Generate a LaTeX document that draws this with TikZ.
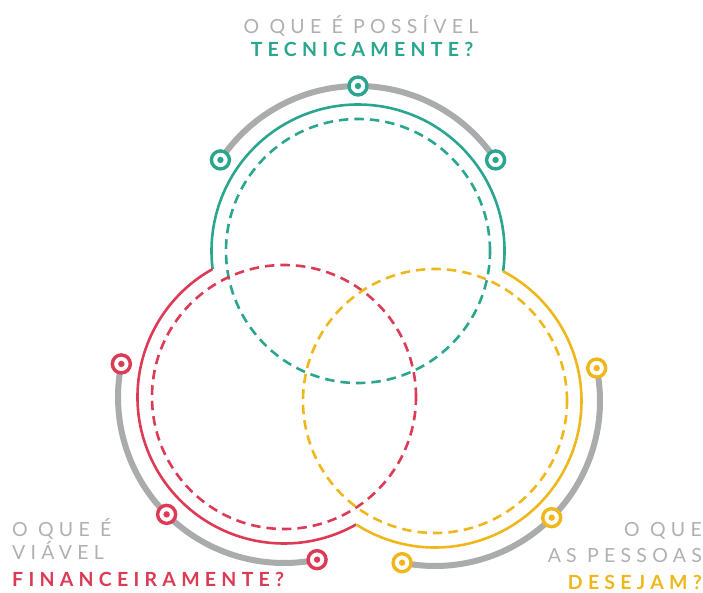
\documentclass[tikz,border=0pt]{standalone}
\usepackage{fontspec}
\setmainfont{Lato}
\newfontfamily\lbl[LetterSpace=27]{Lato}
\definecolor{cTeal}{HTML}{2AA68F}
\definecolor{cRed}{HTML}{DC3A55}
\definecolor{cYel}{HTML}{F0B71C}
\definecolor{cGrey}{HTML}{A9ABAD}
\definecolor{cTxt}{HTML}{B0B0B0}
\begin{document}
\begin{tikzpicture}[x=1pt,y=1pt,
  dashcirc/.style={draw=#1, line width=2.6pt, dash pattern=on 9.5pt off 6pt},
  solidarc/.style={draw=#1, line width=2.6pt},
  greyarc/.style={draw=cGrey, line width=6pt},
  marker/.style={circle, draw=#1, line width=3.4pt, fill=white, minimum size=18pt, inner sep=0pt,
     path picture={\fill[#1] (path picture bounding box.center) circle[radius=3.2pt];}},
  grey/.style={text=cTxt, font=\lbl\fontsize{19.5}{23}\selectfont, inner sep=0pt},
  bold/.style={text=#1, font=\lbl\fontsize{19.5}{23}\selectfont\bfseries, inner sep=0pt}]
\useasboundingbox (0,0) rectangle (703,592);
\coordinate (T) at (358,341);
\coordinate (R) at (284,195);
\coordinate (Y) at (435,191);
% dashed circles
\draw[dashcirc=cTeal] (T) circle[radius=132];
\draw[dashcirc=cRed] (R) circle[radius=132];
\draw[dashcirc=cYel] (Y) circle[radius=132];
% solid outer arcs
\draw[solidarc=cTeal] ([shift={(-8:146.5)}]T) arc[start angle=-8, end angle=187.1, radius=146.5];
\draw[solidarc=cRed] ([shift={(119.2:146.5)}]R) arc[start angle=119.2, end angle=299.5, radius=146.5];
\draw[solidarc=cYel] ([shift={(-122.5:146.5)}]Y) arc[start angle=-122.5, end angle=62.3, radius=146.5];
% grey arcs
\draw[greyarc] ([shift={(33.5:165)}]T) arc[start angle=33.5, end angle=146.5, radius=165];
\draw[greyarc] ([shift={(168.5:166)}]R) arc[start angle=168.5, end angle=281.5, radius=166];
\draw[greyarc] ([shift={(-101.5:165)}]Y) arc[start angle=-101.5, end angle=11.5, radius=165];
% markers
\node[marker=cTeal] (t1) at ([shift={(146.5:165)}]T) {};
\node[marker=cTeal] (t2) at ([shift={(90:165)}]T) {};
\node[marker=cTeal] (t3) at ([shift={(33.5:165)}]T) {};
\node[marker=cRed] (r1) at ([shift={(168.5:166)}]R) {};
\node[marker=cRed] (r2) at ([shift={(225:166)}]R) {};
\node[marker=cRed] (r3) at ([shift={(281.5:166)}]R) {};
\node[marker=cYel] (y1) at ([shift={(11.5:165)}]Y) {};
\node[marker=cYel] (y2) at ([shift={(-45:165)}]Y) {};
\node[marker=cYel] (y3) at ([shift={(-101.5:165)}]Y) {};
% texts
\node[grey, anchor=base] (top1) at (361,558) {O QUE É POSSÍVEL};
\node[bold=cTeal, anchor=base] (top2) at (362,535.3) {TECNICAMENTE?};
\node[grey, anchor=base west] (l1) at (12,55.3) {O QUE É};
\node[grey, anchor=base west] (l2) at (12,33) {VIÁVEL};
\node[bold=cRed, anchor=base west] (l3) at (12,6) {FINANCEIRAMENTE?};
\node[grey, anchor=base east] (r1t) at (702,56) {O QUE};
\node[grey, anchor=base east] (r2t) at (702,29.3) {AS PESSOAS};
\node[bold=cYel, anchor=base east] (r3t) at (702,2.7) {DESEJAM?};
\end{tikzpicture}
\end{document}
